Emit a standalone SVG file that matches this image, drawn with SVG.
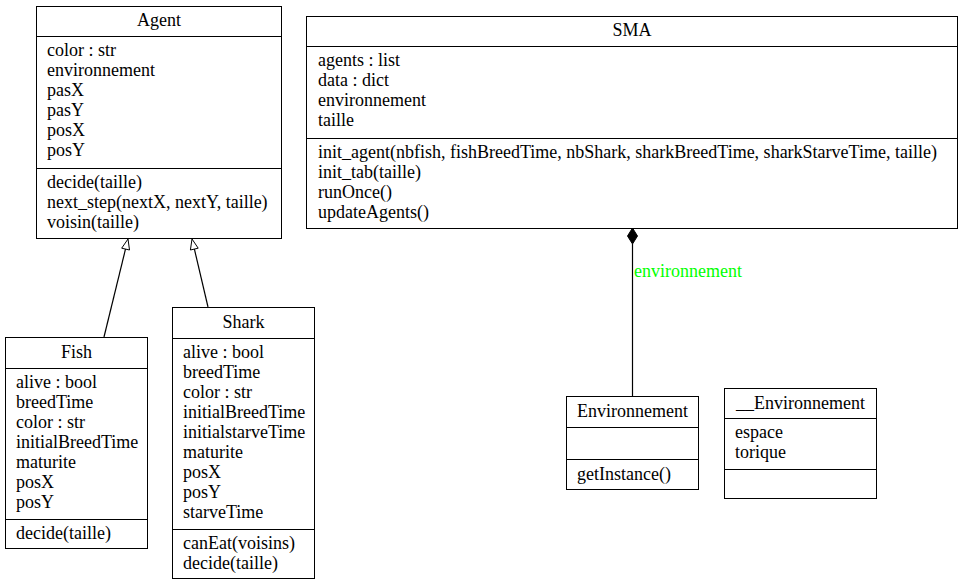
<svg xmlns="http://www.w3.org/2000/svg" width="964" height="585" viewBox="0 0 964 585">
<style>
text{font-family:"Liberation Serif","Times New Roman",serif;font-size:18px;fill:#000}
.t{text-anchor:middle}
.box{fill:#fff;stroke:#000;stroke-width:1}
.sep{stroke:#000;stroke-width:1}
.edge{stroke:#000;stroke-width:1.2;fill:none}
.lbl{fill:#00ff00}
</style>
<rect width="964" height="585" fill="#fff"/>
<g id="connectors">
<line class="edge" x1="104" y1="337" x2="125.6" y2="248.7"/>
<polygon points="128,239 129.5,250 121.7,248.2" fill="#fff" stroke="#000"/>
<line class="edge" x1="208" y1="307" x2="194.3" y2="248.7"/>
<polygon points="192,239 198.2,248.2 190.4,250" fill="#fff" stroke="#000"/>
<line class="edge" x1="632.5" y1="244" x2="632.5" y2="396"/>
<polygon points="632.5,228 637.5,236 632.5,244 627.5,236" fill="#000" stroke="#000"/>
<text class="lbl" x="634" y="277">environnement</text>
</g>
<g id="Agent">
<rect class="box" x="36.5" y="6.5" width="245" height="232"/>
<line class="sep" x1="36.5" y1="36.5" x2="281.5" y2="36.5"/>
<line class="sep" x1="36.5" y1="168.5" x2="281.5" y2="168.5"/>
<text class="t" x="159" y="26">Agent</text>
<text x="47" y="56">color : str</text>
<text x="47" y="76">environnement</text>
<text x="47" y="96">pasX</text>
<text x="47" y="116">pasY</text>
<text x="47" y="136">posX</text>
<text x="47" y="156">posY</text>
<text x="47" y="188">decide(taille)</text>
<text x="47" y="208">next_step(nextX, nextY, taille)</text>
<text x="47" y="228">voisin(taille)</text>
</g>
<g id="SMA">
<rect class="box" x="306.5" y="16.5" width="651" height="212"/>
<line class="sep" x1="306.5" y1="46.5" x2="957.5" y2="46.5"/>
<line class="sep" x1="306.5" y1="138.5" x2="957.5" y2="138.5"/>
<text class="t" x="632" y="36">SMA</text>
<text x="318" y="66">agents : list</text>
<text x="318" y="86">data : dict</text>
<text x="318" y="106">environnement</text>
<text x="318" y="126">taille</text>
<text x="318" y="158">init_agent(nbfish, fishBreedTime, nbShark, sharkBreedTime, sharkStarveTime, taille)</text>
<text x="318" y="178">init_tab(taille)</text>
<text x="318" y="198">runOnce()</text>
<text x="318" y="218">updateAgents()</text>
</g>
<g id="Fish">
<rect class="box" x="5.5" y="337.5" width="142" height="211"/>
<line class="sep" x1="5.5" y1="368.5" x2="147.5" y2="368.5"/>
<line class="sep" x1="5.5" y1="519.5" x2="147.5" y2="519.5"/>
<text class="t" x="76.5" y="358">Fish</text>
<text x="16" y="388">alive : bool</text>
<text x="16" y="408">breedTime</text>
<text x="16" y="428">color : str</text>
<text x="16" y="448">initialBreedTime</text>
<text x="16" y="468">maturite</text>
<text x="16" y="488">posX</text>
<text x="16" y="508">posY</text>
<text x="16" y="539">decide(taille)</text>
</g>
<g id="Shark">
<rect class="box" x="172.5" y="307.5" width="142" height="271"/>
<line class="sep" x1="172.5" y1="338.5" x2="314.5" y2="338.5"/>
<line class="sep" x1="172.5" y1="529.5" x2="314.5" y2="529.5"/>
<text class="t" x="243.5" y="328">Shark</text>
<text x="183" y="358">alive : bool</text>
<text x="183" y="378">breedTime</text>
<text x="183" y="398">color : str</text>
<text x="183" y="418">initialBreedTime</text>
<text x="183" y="438">initialstarveTime</text>
<text x="183" y="458">maturite</text>
<text x="183" y="478">posX</text>
<text x="183" y="498">posY</text>
<text x="183" y="518">starveTime</text>
<text x="183" y="549">canEat(voisins)</text>
<text x="183" y="569">decide(taille)</text>
</g>
<g id="Environnement">
<rect class="box" x="566.5" y="396.5" width="132" height="93"/>
<line class="sep" x1="566.5" y1="427.5" x2="698.5" y2="427.5"/>
<line class="sep" x1="566.5" y1="459.5" x2="698.5" y2="459.5"/>
<text class="t" x="632.5" y="417">Environnement</text>
<text x="577" y="480">getInstance()</text>
</g>
<g id="__Environnement">
<rect class="box" x="724.5" y="388.5" width="152" height="110"/>
<line class="sep" x1="724.5" y1="418.5" x2="876.5" y2="418.5"/>
<line class="sep" x1="724.5" y1="469.5" x2="876.5" y2="469.5"/>
<text class="t" x="800.5" y="409">__Environnement</text>
<text x="735" y="438">espace</text>
<text x="735" y="458">torique</text>
</g>
</svg>
